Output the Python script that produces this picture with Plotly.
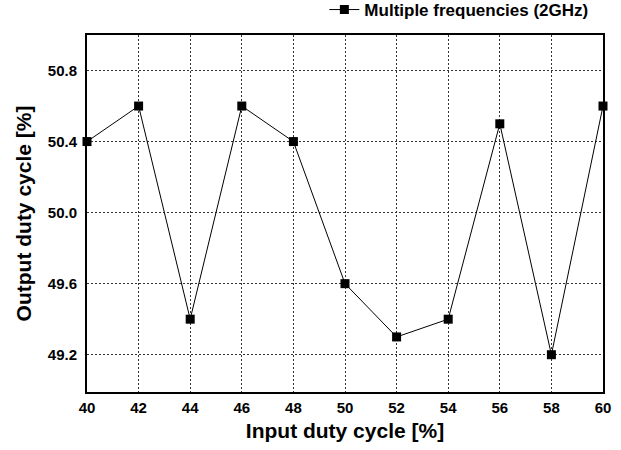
import plotly.graph_objects as go

x_vals = [40, 42, 44, 46, 48, 50, 52, 54, 56, 58, 60]
y_vals = [50.4, 50.6, 49.4, 50.6, 50.4, 49.6, 49.3, 49.4, 50.5, 49.2, 50.6]
series_name = "Multiple frequencies (2GHz)"
x_ticks = [40, 42, 44, 46, 48, 50, 52, 54, 56, 58, 60]
y_ticks = [49.2, 49.6, 50.0, 50.4, 50.8]
y_tick_text = ["49.2", "49.6", "50.0", "50.4", "50.8"]

FONT = "Liberation Sans, Arial, sans-serif"

fig = go.Figure()
fig.add_trace(go.Scatter(
    x=x_vals, y=y_vals, name=series_name, mode="lines+markers",
    line=dict(color="black", width=1),
    marker=dict(symbol="square", size=9, color="black"),
    cliponaxis=False,
))

axis_common = dict(
    showline=True, linecolor="black", linewidth=2, mirror=True,
    showgrid=True, gridcolor="#333333", gridwidth=1, griddash="2px,2px",
    zeroline=False, ticks="", tickfont=dict(family=FONT, size=15, color="black", weight="bold"),
)

fig.update_layout(
    width=621, height=450,
    margin=dict(l=87, r=18, t=35, b=58, autoexpand=False),
    plot_bgcolor="white", paper_bgcolor="white",
    font=dict(family=FONT, color="black"),
    showlegend=True,
    legend=dict(
        x=0.46, y=1.07, xanchor="left", yanchor="middle",
        bgcolor="rgba(0,0,0,0)",
        font=dict(family=FONT, size=17, color="black", weight="bold"),
    ),
    xaxis=dict(
        range=[40, 60], tickvals=x_ticks, ticklabelstandoff=1,
        title=dict(text="Input duty cycle [%]", font=dict(family=FONT, size=21, weight="bold"), standoff=8),
        **axis_common,
    ),
    yaxis=dict(
        range=[48.99, 51.0], tickvals=y_ticks, ticktext=y_tick_text, ticklabelstandoff=5,
        title=dict(text="Output duty cycle [%]", font=dict(family=FONT, size=21, weight="bold"), standoff=10),
        **axis_common,
    ),
)

fig.write_html("out.html", config={"displayModeBar": False},
               post_script="document.body.style.margin='0';")
